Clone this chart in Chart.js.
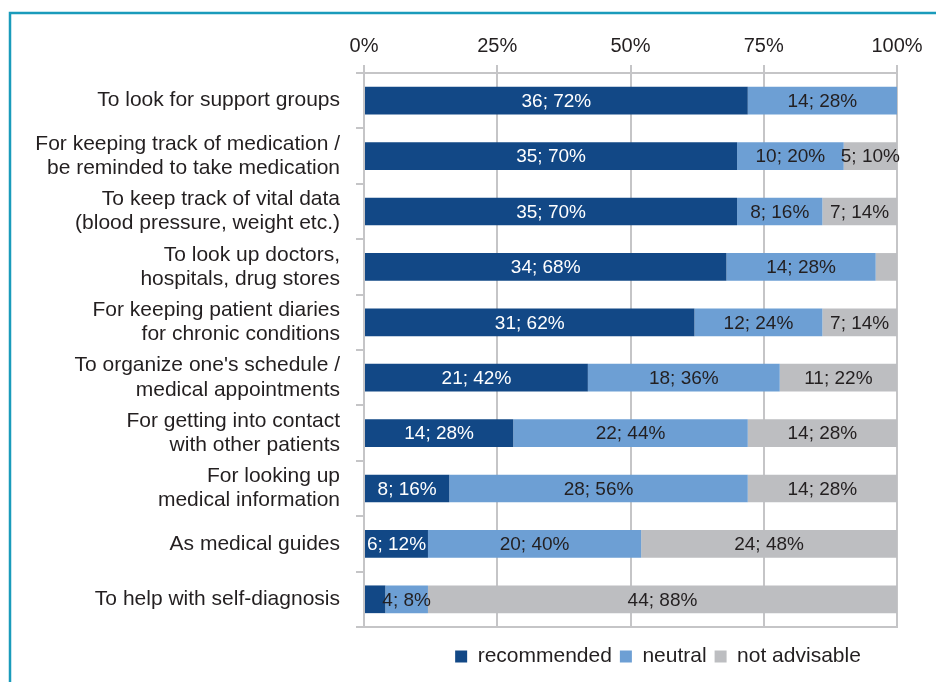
<!DOCTYPE html>
<html>
<head>
<meta charset="utf-8">
<script src="https://cdn.jsdelivr.net/npm/chart.js@4/dist/chart.umd.min.js"></script>
<style>
    html, body { margin: 0; padding: 0; background: #fff; }
    #wrap { width: 936px; height: 682px; position: relative; }
</style>
</head>
<body>
<div id="wrap"><canvas id="usesChart"></canvas></div>
<script>
const categories = [
    'To look for support groups',
    ['For keeping track of medication /', 'be reminded to take medication'],
    ['To keep track of vital data', '(blood pressure, weight etc.)'],
    ['To look up doctors,', 'hospitals, drug stores'],
    ['For keeping patient diaries', 'for chronic conditions'],
    ["To organize one's schedule /", 'medical appointments'],
    ['For getting into contact', 'with other patients'],
    ['For looking up', 'medical information'],
    'As medical guides',
    'To help with self-diagnosis'
];
const recommended = [36, 35, 35, 34, 31, 21, 14, 8, 6, 2];
const neutral = [14, 10, 8, 14, 12, 18, 22, 28, 20, 4];
const notAdvisable = [0, 5, 7, 2, 7, 11, 14, 14, 24, 44];
const xTicks = [0, 25, 50, 75, 100];

const totals = categories.map((c, i) => recommended[i] + neutral[i] + notAdvisable[i]);
const toPct = arr => arr.map((v, i) => v / totals[i] * 100);

const gridGray = '#c5c5c7';
const textColor = '#231f20';
const font = "'Liberation Sans', Arial, sans-serif";

// labels "n; p%" inside each segment
const segmentLabels = {
    id: 'segmentLabels',
    afterDatasetsDraw(chart) {
        const ctx = chart.ctx;
        ctx.save();
        ctx.font = '19px ' + font;
        ctx.textAlign = 'center';
        ctx.textBaseline = 'middle';
        chart.data.datasets.forEach((ds, di) => {
            const meta = chart.getDatasetMeta(di);
            meta.data.forEach((bar, i) => {
                const n = ds.counts[i];
                if (n < 3) return;
                const pct = Math.round(ds.data[i]);
                ctx.fillStyle = di === 0 ? '#ffffff' : textColor;
                ctx.fillText(n + '; ' + pct + '%', (bar.x + bar.base) / 2, bar.y + 1);
            });
        });
        ctx.restore();
    }
};

// teal frame and legend placement
const frame = {
    id: 'frame',
    afterLayout(chart) {
        const lg = chart.legend;
        lg.left = 422;
        lg.right = 894;
        lg.top = 638;
    },
    afterDraw(chart) {
        const ctx = chart.ctx;
        ctx.save();
        ctx.strokeStyle = '#1a9bbb';
        ctx.lineWidth = 2.5;
        ctx.beginPath();
        ctx.moveTo(10, 682);
        ctx.lineTo(10, 13);
        ctx.lineTo(936, 13);
        ctx.stroke();
        ctx.restore();
    }
};

new Chart(document.getElementById('usesChart'), {
    type: 'bar',
    data: {
        labels: categories,
        datasets: [
            { label: 'recommended', data: toPct(recommended), counts: recommended, backgroundColor: '#124886' },
            { label: 'neutral', data: toPct(neutral), counts: neutral, backgroundColor: '#6d9fd4' },
            { label: 'not advisable', data: toPct(notAdvisable), counts: notAdvisable, backgroundColor: '#bdbec1' }
        ]
    },
    options: {
        indexAxis: 'y',
        responsive: true,
        maintainAspectRatio: false,
        animation: false,
        barPercentage: 0.5,
        categoryPercentage: 1,
        layout: { padding: { top: 27, right: 39, bottom: 16, left: 0 } },
        plugins: {
            tooltip: { enabled: false },
            legend: {
                position: 'bottom',
                labels: {
                    color: textColor,
                    font: { family: font, size: 21 },
                    boxWidth: 12,
                    boxHeight: 12,
                    padding: 8
                }
            }
        },
        scales: {
            x: {
                position: 'top',
                stacked: true,
                min: 0,
                max: 100,
                afterBuildTicks(scale) {
                    scale.ticks = xTicks.map(v => ({ value: v }));
                },
                ticks: {
                    color: textColor,
                    font: { family: font, size: 20 },
                    padding: 7,
                    callback: v => v + '%'
                },
                grid: { color: gridGray, lineWidth: 2, tickLength: 8 },
                border: { color: gridGray, width: 2 }
            },
            x2: {
                position: 'bottom',
                display: true,
                ticks: { display: false },
                grid: { display: false },
                border: { color: gridGray, width: 2 },
                afterFit(scale) { scale.height = 0; }
            },
            y: {
                stacked: true,
                afterFit(scale) { scale.width = 364; },
                ticks: {
                    color: textColor,
                    font: { family: font, size: 21, lineHeight: 1.15 },
                    padding: 16
                },
                grid: { color: gridGray, lineWidth: 2, tickLength: 8, drawOnChartArea: false },
                border: { color: gridGray, width: 2 }
            }
        }
    },
    plugins: [segmentLabels, frame]
});
</script>
</body>
</html>
